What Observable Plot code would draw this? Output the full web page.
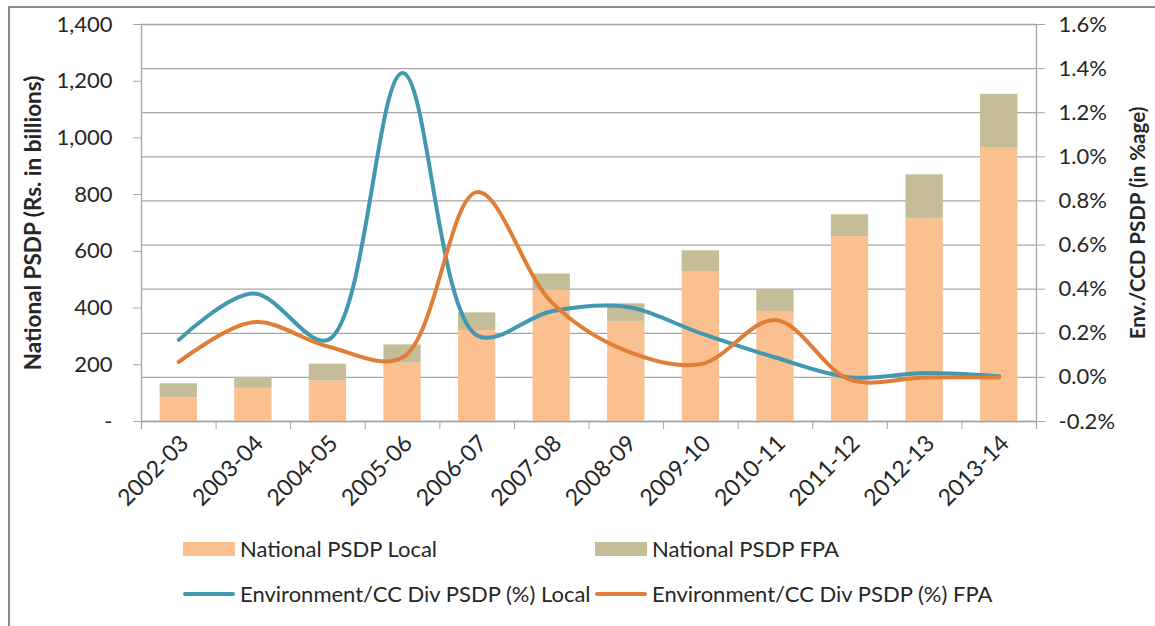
<!DOCTYPE html>
<html>
<head>
<meta charset="utf-8">
<script src="https://cdn.jsdelivr.net/npm/d3@7"></script>
<script src="https://cdn.jsdelivr.net/npm/@observablehq/plot@0.6"></script>
<style>
  html, body { margin: 0; padding: 0; background: #fff; overflow: hidden; }
  #frame { position: absolute; left: 8px; top: 6px; width: 2000px; height: 2000px;
           border: 2px solid #8c8c8c; box-sizing: border-box; }
  #chart { position: absolute; left: 0; top: 0; }
  #legend { position: absolute; left: 183px; top: 520px; font-family: Lato, sans-serif;
            font-size: 22px; color: #262626; }
  .row { display: flex; height: 45px; align-items: center; }
  .row:first-child { margin-top: 6px; }
  .item { display: flex; align-items: center; width: 412px; }
  .sw { width: 52px; height: 14px; margin-right: 5px; }
  .ln { width: 52px; height: 4px; border-radius: 2px; margin-right: 5px; }
</style>
</head>
<body>
<div id="frame"></div>
<div id="chart"></div>
<div id="legend"></div>
<script>
const years = ["2002-03","2003-04","2004-05","2005-06","2006-07","2007-08","2008-09","2009-10","2010-11","2011-12","2012-13","2013-14"];
const psdpLocal = [83, 117, 143, 206, 321, 462, 353, 529, 388, 652, 715, 964];
const psdpFPA   = [50, 38, 59, 64, 62, 58, 62, 73, 75, 77, 155, 190];
const envLocal  = [0.17, 0.38, 0.17, 1.38, 0.19, 0.30, 0.32, 0.20, 0.09, 0.00, 0.02, 0.005];
const envFPA    = [0.07, 0.25, 0.14, 0.09, 0.84, 0.34, 0.12, 0.06, 0.26, -0.01, 0.00, 0.00];
const leftTicks = [0, 200, 400, 600, 800, 1000, 1200, 1400];
const rightTicks = [-0.2, 0, 0.2, 0.4, 0.6, 0.8, 1.0, 1.2, 1.4, 1.6];
const seriesNames = ["National PSDP Local", "National PSDP FPA", "Environment/CC Div PSDP (%) Local", "Environment/CC Div PSDP (%) FPA"];
const colors = ["#FAC090", "#C4BD97", "#4198AF", "#E07D37"];
const leftTitle = "National PSDP (Rs. in billions)";
const rightTitle = "Env./CCD PSDP (in %age)";

// map the secondary (percent) axis onto the primary scale domain
const L0 = leftTicks[0], L1 = leftTicks[leftTicks.length - 1];
const R0 = rightTicks[0], R1 = rightTicks[rightTicks.length - 1];
const tr = p => L0 + (p - R0) * (L1 - L0) / (R1 - R0);
const inv = v => R0 + (v - L0) * (R1 - R0) / (L1 - L0);

const idx = years.map((_, i) => i);
const bars = [];
idx.forEach(i => {
  bars.push({i, series: seriesNames[0], y1: 0, y2: psdpLocal[i]});
  bars.push({i, series: seriesNames[1], y1: psdpLocal[i], y2: psdpLocal[i] + psdpFPA[i]});
});
const bounds = idx.map(i => i - 0.5).concat([idx.length - 0.5]);
const grey = "#a6a6a6";
const font = "Lato, sans-serif";

const chart = Plot.plot({
  width: 1155, height: 520,
  marginLeft: 141, marginRight: 119, marginTop: 24, marginBottom: 99,
  style: {fontFamily: font, fontSize: "22px", color: "#262626", background: "transparent", overflow: "visible"},
  x: {type: "linear", domain: [-0.5, idx.length - 0.5], axis: null},
  y: {domain: [L0, L1], axis: null},
  color: {domain: seriesNames.slice(0, 2), range: colors.slice(0, 2)},
  marks: [
    Plot.ruleY(rightTicks.map(tr), {stroke: grey, strokeWidth: 1.3}),
    Plot.rectY(bars, {x1: d => d.i - 0.25, x2: d => d.i + 0.25, y1: "y1", y2: "y2", fill: "series"}),
    Plot.ruleX([bounds[0], bounds[bounds.length - 1]], {stroke: grey, strokeWidth: 1.3, insetBottom: -8}),
    Plot.ruleY([L0], {stroke: grey, strokeWidth: 1.3}),
    Plot.line(idx, {x: i => i, y: i => tr(envLocal[i]), stroke: colors[2], strokeWidth: 4, curve: "catmull-rom"}),
    Plot.line(idx, {x: i => i, y: i => tr(envFPA[i]), stroke: colors[3], strokeWidth: 4, curve: "catmull-rom"}),
    Plot.axisY(leftTicks, {anchor: "left", tickSize: 8, tickPadding: 21, stroke: grey, fill: "#262626",
      tickFormat: d => d === 0 ? "-" : d3.format(",")(d), label: null}),
    Plot.axisY(rightTicks.map(tr), {anchor: "right", tickSize: 8, tickPadding: 14, stroke: grey, fill: "#262626",
      tickFormat: v => (Math.round(inv(v) * 10) / 10).toFixed(1) + "%", label: null}),
    Plot.axisX(bounds, {anchor: "bottom", tickSize: 8, stroke: grey, tickFormat: () => "", label: null}),
    Plot.axisX(idx, {anchor: "bottom", tickSize: 0, tickRotate: -45, tickPadding: 18, dx: 6, fontSize: 23, fill: "#262626",
      tickFormat: i => years[i], label: null}),
    Plot.text([leftTitle], {text: d => d, frameAnchor: "left", textAnchor: "middle", rotate: -90, dx: -108, fontWeight: "bold", fontSize: 22.5, fill: "#262626"}),
    Plot.text([rightTitle], {text: d => d, frameAnchor: "right", textAnchor: "middle", rotate: -90, dx: 102, fontWeight: "bold", fontSize: 20.5, fill: "#262626"})
  ]
});
document.getElementById("chart").appendChild(chart);

const legend = document.getElementById("legend");
[[0, 1], [2, 3]].forEach((pair, r) => {
  const row = document.createElement("div");
  row.className = "row";
  pair.forEach(k => {
    const item = document.createElement("div");
    item.className = "item";
    const sw = document.createElement("span");
    sw.className = r === 0 ? "sw" : "ln";
    sw.style.background = colors[k];
    const t = document.createElement("span");
    t.textContent = seriesNames[k];
    item.appendChild(sw); item.appendChild(t);
    row.appendChild(item);
  });
  legend.appendChild(row);
});
</script>
</body>
</html>
